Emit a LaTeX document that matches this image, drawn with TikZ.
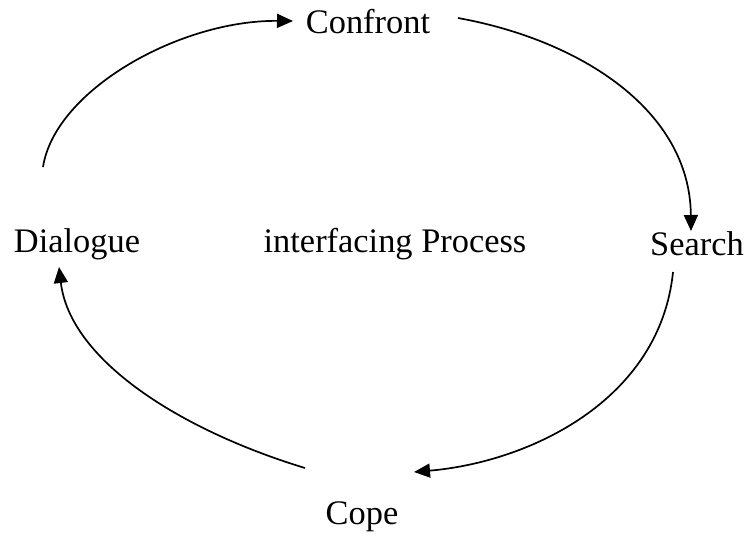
\documentclass[tikz,border=0pt]{standalone}
\usepackage{fontspec}
\setmainfont{Liberation Serif}
\usetikzlibrary{arrows.meta}
\begin{document}
\begin{tikzpicture}[x=0.5pt, y=-0.5pt,
	word/.style={inner sep=0pt, font=\fontsize{17.2}{20}\selectfont},
	cycle/.style={line width=0.85pt, -{Triangle[length=8pt, width=7pt]}}]
	\useasboundingbox (0,0) rectangle (744,536);
	\node (confront) [word] at (368,22) {Confront};
	\node (dialogue) [word] at (77,244) {Dialogue};
	\node (process) [word] at (395,244) {interfacing Process};
	\node (search) [word] at (697,244) {Search};
	\node (cope) [word] at (362,517) {Cope};
	
	\coordinate (d out) at (43,167);
	\coordinate (c in) at (293,21);
	\coordinate (c out) at (458,18);
	\coordinate (s in) at (691,231);
	\coordinate (s out) at (673,272);
	\coordinate (p in) at (414,472);
	\coordinate (p out) at (305,468);
	\coordinate (d in) at (59,267);
	
	\draw [cycle] (d out) .. controls (55,90) and (180,20) .. (c in);
	\draw [cycle] (c out) .. controls (580,40) and (690,110) .. (s in);
	\draw [cycle] (s out) .. controls (660,400) and (530,462) .. (p in);
	\draw [cycle] (p out) .. controls (180,430) and (70,360) .. (d in);
\end{tikzpicture}
\end{document}
